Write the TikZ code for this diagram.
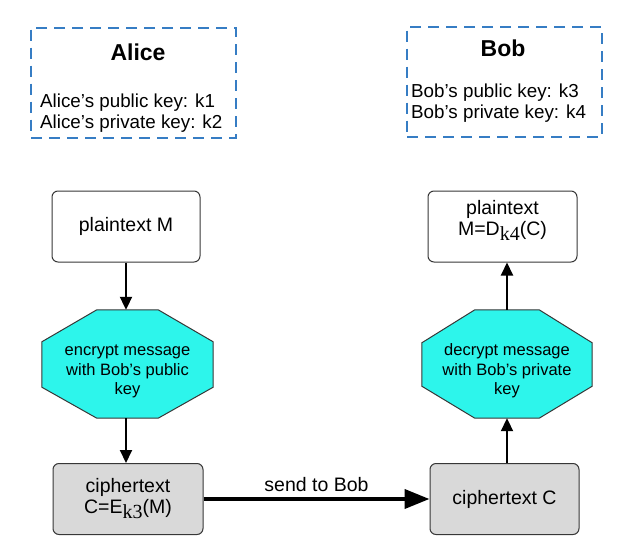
\documentclass[tikz,border=0pt]{standalone}
\usepackage{fontspec}
\setmainfont{Liberation Sans}
\newfontfamily\serifk{Liberation Serif}
\usetikzlibrary{arrows.meta,calc,backgrounds}
\definecolor{dashblue}{RGB}{54,125,196}
\definecolor{octcyan}{RGB}{45,245,235}
\definecolor{boxgray}{RGB}{217,217,217}
\definecolor{edgegray}{RGB}{55,55,55}
\newcommand\subk[1]{\raisebox{-5pt}{\serifk\fontsize{20}{20}\selectfont #1}}
\newcommand\octstrut{\rule{0pt}{26pt}}
\begin{document}
\begin{tikzpicture}[x=1pt,y=-1pt,
  partybox/.style={draw=dashblue, line width=2pt, dash pattern=on 11pt off 7pt,
    minimum width=#1, minimum height=110pt, inner sep=0pt},
  titletext/.style={font=\fontsize{23}{26}\selectfont\bfseries, inner sep=0pt},
  keytext/.style={font=\fontsize{18.8}{20.5}\selectfont, align=left, inner sep=0pt, anchor=west},
  roundbox/.style={draw=edgegray, line width=1pt, rounded corners=6pt,
    minimum width=#1, minimum height=71pt, align=center,
    font=\fontsize{19.5}{21}\selectfont},
  octnode/.style={minimum width=#1, minimum height=108pt, inner sep=0pt,
    align=center, font=\fontsize{16.5}{19.5}\selectfont},
  octshape/.style={fill=octcyan, draw=edgegray, line width=1pt},
  thinarrow/.style={line width=2pt, -{Triangle[length=13pt,width=12pt]}},
  thickarrow/.style={line width=4pt, -{Triangle[length=25pt,width=19pt]}},
  lbl/.style={font=\fontsize{19.5}{21}\selectfont, inner sep=0pt}
]
\useasboundingbox (0,0) rectangle (640,554);

% party boxes
\node[partybox=205pt] (alicebox) at (133.5,82.5) {};
\node[titletext] (alicetitle) at (138,52) {Alice};
\node[keytext] (alicekeys) at (40,113) {Alice’s public key: k1\\Alice’s private key: k2};

\node[partybox=195pt] (bobbox) at (504.5,81.5) {};
\node[titletext] (bobtitle) at (503,48) {Bob};
\node[keytext] (bobkeys) at (411,103) {Bob’s public key: k3\\Bob’s private key: k4};

% flow nodes
\node[roundbox=148pt, fill=white] (plainL) at (126,226.5) {plaintext M};
\node[octnode=171pt] (enc) at (127.5,364) {\octstrut encrypt message\\with Bob’s public\\key};
\node[roundbox=150pt, fill=boxgray] (cipherL) at (128,499)
  {ciphertext\\C=E\subk{k3}(M)};
\node[roundbox=149pt, fill=boxgray] (cipherR) at (504.5,499) {ciphertext C};
\node[octnode=170pt] (dec) at (507,364) {\octstrut decrypt message\\with Bob’s private\\key};
\node[roundbox=149pt, fill=white] (plainR) at (502.5,226.5)
  {plaintext\\M=D\subk{k4}(C)\\[-3pt]\mbox{}};

\begin{pgfonlayer}{background}
\filldraw[octshape] ($(enc.north west)+(55,0)$) -- ($(enc.north east)+(-55,0)$)
  -- ($(enc.north east)+(0,32)$) -- ($(enc.south east)+(0,-31)$)
  -- ($(enc.south east)+(-55,0)$) -- ($(enc.south west)+(55,0)$)
  -- ($(enc.south west)+(0,-31)$) -- ($(enc.north west)+(0,32)$) -- cycle;
\filldraw[octshape] ($(dec.north west)+(53,0)$) -- ($(dec.north east)+(-53,0)$)
  -- ($(dec.north east)+(0,33)$) -- ($(dec.south east)+(0,-32)$)
  -- ($(dec.south east)+(-53,0)$) -- ($(dec.south west)+(53,0)$)
  -- ($(dec.south west)+(0,-32)$) -- ($(dec.north west)+(0,33)$) -- cycle;
\end{pgfonlayer}

% connectors
\draw[thinarrow] (plainL.south) -- (plainL.south |- enc.north);
\draw[thinarrow] (enc.south -| plainL.south) -- (plainL.south |- cipherL.north);
\draw[thickarrow] (cipherL.east) -- (cipherR.west)
  node[lbl, midway, above=5pt] (sendlbl) {send to Bob};
\draw[thinarrow] (dec.south |- cipherR.north) -- (dec.south);
\draw[thinarrow] (dec.north) -- (dec.north |- plainR.south);
\end{tikzpicture}
\end{document}
